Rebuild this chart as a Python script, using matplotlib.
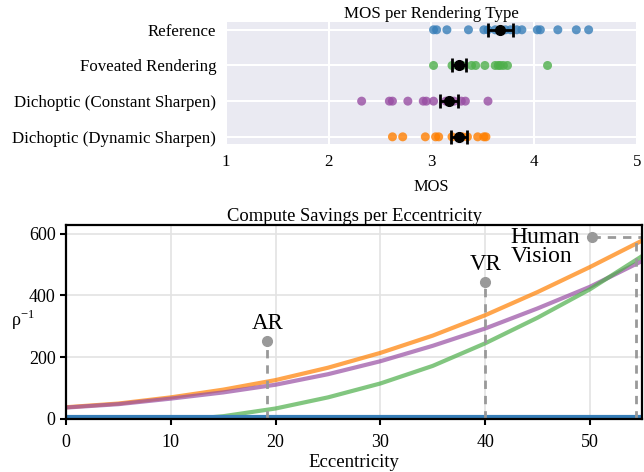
import matplotlib
matplotlib.use('Agg')
import matplotlib.pyplot as plt
import numpy as np

plt.rcParams['font.family'] = ['Liberation Serif', 'DejaVu Serif']
plt.rcParams['mathtext.fontset'] = 'custom'
plt.rcParams['mathtext.rm'] = 'Liberation Serif'

# MOS per rendering type (strip points)
categories = ['Reference', 'Foveated Rendering',
              'Dichoptic (Constant Sharpen)', 'Dichoptic (Dynamic Sharpen)']
mos_reference = [3.02, 3.05, 3.15, 3.36, 3.51, 3.55, 3.62, 3.72, 3.77, 3.83,
                 3.88, 4.03, 4.06, 4.23, 4.41, 4.53]
mos_foveated = [3.02, 3.20, 3.30, 3.39, 3.43, 3.52, 3.62, 3.65, 3.67, 3.70,
                3.74, 4.13]
mos_constant = [2.32, 2.59, 2.62, 2.77, 2.92, 2.95, 3.02, 3.14, 3.22, 3.29,
                3.33, 3.55]
mos_dynamic = [2.62, 2.72, 2.94, 3.04, 3.07, 3.20, 3.30, 3.35, 3.45, 3.51, 3.53]
mos_means = [3.67, 3.27, 3.17, 3.27]
mos_errs = [0.12, 0.07, 0.09, 0.08]
cat_colors = ['#377eb8', '#4daf4a', '#984ea3', '#ff7f00']

# compute savings per eccentricity
ecc = [0, 5, 10, 15, 20, 25, 30, 35, 40, 45, 50, 55]
rho_orange = [38, 50, 70, 95, 126, 166, 214, 270, 336, 411, 492, 578]
rho_purple = [37, 48, 66, 86, 111, 145, 187, 237, 293, 358, 428, 512]
ecc_green = [0, 12, 15, 20, 25, 30, 35, 40, 45, 50, 55]
rho_green = [0, 0, 9, 34, 70, 115, 172, 245, 328, 420, 528]
rho_blue = [5] * len(ecc)

marks = ['AR', 'VR']
marks_x = [19.2, 40.0]
marks_y = [252, 443]
human_x, human_y, human_line_x = 50.2, 590, 54.4

fig = plt.figure(figsize=(6.44, 4.72), dpi=100)

# ---- top: MOS strip plot
ax1 = fig.add_axes([0.351, 0.695, 0.638, 0.2585])
ax1.set_facecolor('#EAEAF2')
for s in ax1.spines.values():
    s.set_visible(False)
ax1.set_axisbelow(True)
ax1.grid(True, color='white', lw=1.5)
for i, vals in enumerate([mos_reference, mos_foveated, mos_constant, mos_dynamic]):
    ax1.scatter(vals, [i] * len(vals), s=42, color=cat_colors[i], alpha=0.8,
                edgecolors='none', zorder=3)
ax1.errorbar(mos_means, range(4), xerr=mos_errs, fmt='o', color='black',
             ms=7, lw=2, capsize=5, capthick=2, zorder=4)
ax1.set_yticks(range(4))
ax1.set_yticklabels(categories)
ax1.set_ylim(3.2, -0.22)
ax1.set_xlim(1, 5)
ax1.set_xticks([1, 2, 3, 4, 5])
ax1.tick_params(length=0, labelsize=12.2)
ax1.tick_params(axis='y', pad=7)
ax1.tick_params(axis='x', pad=7)
ax1.set_xlabel('MOS', fontsize=11.8, labelpad=7)
ax1.set_title('MOS per Rendering Type', fontsize=12.2, pad=1)

# ---- bottom: compute savings
ax2 = fig.add_axes([0.1025, 0.1123, 0.895, 0.411])
ax2.grid(True, color='#e3e3e3', lw=1.2)
ax2.set_axisbelow(True)
ax2.plot(ecc, rho_orange, color='#ff7f00', alpha=0.7, lw=3)
ax2.plot(ecc, rho_purple, color='#984ea3', alpha=0.7, lw=3)
ax2.plot(ecc_green, rho_green, color='#4daf4a', alpha=0.7, lw=3)
ax2.plot(ecc, rho_blue, color='#377eb8', lw=3)

gray = '#999999'
for name, x, y in zip(marks, marks_x, marks_y):
    ax2.plot([x, x], [0, y], ls='--', color=gray, lw=2, dashes=(3, 2.5))
    ax2.plot(x, y, 'o', color=gray, ms=7)
    ax2.text(x, y + 22, name, ha='center', va='bottom', fontsize=16.5)
ax2.plot([human_x, 55], [human_y, human_y], ls='--', color=gray, lw=2, dashes=(3, 2.5))
ax2.plot([human_line_x, human_line_x], [0, human_y], ls='--', color=gray, lw=2,
         dashes=(3, 2.5))
ax2.plot(human_x, human_y, 'o', color=gray, ms=7)
ax2.text(42.4, 620, 'Human\nVision', ha='left', va='top', fontsize=17,
         linespacing=0.85)

ax2.set_xlim(0, 55)
ax2.set_ylim(0, 628)
ax2.set_yticks([0, 200, 400, 600])
ax2.set_xticks([0, 10, 20, 30, 40, 50])
for s in ax2.spines.values():
    s.set_linewidth(1.6)
ax2.tick_params(direction='out', length=4, width=1.5, labelsize=13)
ax2.tick_params(axis='x', pad=7)
ax2.set_xlabel('Eccentricity', fontsize=13.5, labelpad=2)
ax2.set_ylabel(r'ρ$^{\mathrm{-1}}$', fontsize=13, rotation=0, labelpad=6)
ax2.yaxis.set_label_coords(-0.075, 0.45)
ax2.set_title('Compute Savings per Eccentricity', fontsize=13.4, pad=3)

fig.savefig('out.png', dpi=100)
